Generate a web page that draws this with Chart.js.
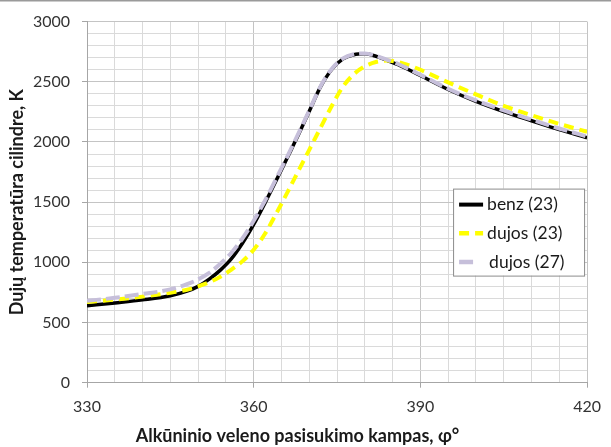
<!DOCTYPE html>
<html>
<head>
<meta charset="utf-8">
<script src="https://cdn.jsdelivr.net/npm/chart.js@4"></script>
<style>
  html, body { margin: 0; padding: 0; background: #fff; }
  #wrap { width: 611px; height: 447px; }
</style>
</head>
<body>
<div id="wrap"><canvas id="chartCanvas" width="611" height="447"></canvas></div>
<script>
// Données
const angles = [330, 335, 340, 345, 348, 350, 352, 354, 356, 358, 360, 362, 364, 366, 368, 370,
                372, 374, 376, 378, 380, 382, 384, 386, 388, 390, 395, 400, 405, 410, 415, 420];
const benz23 = [640, 663, 688, 722, 760, 800, 860, 935, 1030, 1160, 1315, 1490, 1675, 1865, 2055, 2255,
                2455, 2600, 2688, 2725, 2732, 2712, 2678, 2642, 2598, 2552, 2436, 2337, 2252, 2176, 2102, 2035];
const dujos23 = [670, 690, 715, 748, 772, 800, 835, 880, 940, 1010, 1105, 1235, 1400, 1575, 1755, 1935,
                 2115, 2295, 2455, 2562, 2628, 2664, 2676, 2664, 2636, 2600, 2495, 2395, 2300, 2222, 2150, 2085];
const dujos27 = [680, 705, 737, 775, 818, 858, 912, 988, 1080, 1200, 1345, 1510, 1690, 1875, 2065, 2262,
                 2460, 2605, 2692, 2729, 2736, 2716, 2683, 2648, 2605, 2558, 2442, 2345, 2262, 2186, 2112, 2045];
const seriesLabels = ['benz (23)', 'dujos (23)', 'dujos (27)'];
const xTickLabels = [330, 360, 390, 420];
const yTickLabels = [0, 500, 1000, 1500, 2000, 2500, 3000];

const FONT = 'Lato, "Open Sans", sans-serif';

function toPoints(ys) {
    return angles.map((a, i) => ({ x: a, y: ys[i] }));
}

// Fond blanc + trait gris en haut
const backgroundPlugin = {
    id: 'background',
    beforeDraw(chart) {
        const ctx = chart.ctx;
        ctx.save();
        ctx.fillStyle = '#fff';
        ctx.fillRect(0, 0, chart.width, chart.height);
        ctx.strokeStyle = '#9a9a9a';
        ctx.lineWidth = 1.5;
        ctx.beginPath();
        ctx.moveTo(0, 0.75);
        ctx.lineTo(chart.width, 0.75);
        ctx.stroke();
        ctx.restore();
    }
};

// Légende encadrée dans la zone du graphique
const boxLegendPlugin = {
    id: 'boxLegend',
    afterDatasetsDraw(chart) {
        const ctx = chart.ctx;
        const area = chart.chartArea;
        const w = 131, h = 87;
        const x0 = area.right - w - 3;
        const y0 = area.top + 167;
        ctx.save();
        ctx.fillStyle = '#fff';
        ctx.fillRect(x0, y0, w, h);
        ctx.strokeStyle = '#8c8c8c';
        ctx.lineWidth = 1;
        ctx.strokeRect(x0 + 0.5, y0 + 0.5, w, h);
        ctx.font = '17.5px ' + FONT;
        ctx.textBaseline = 'middle';
        ctx.fillStyle = '#1a1a1a';
        [0, 1, 2].forEach(i => {
            const ds = chart.data.datasets[i];
            const cy = y0 + 16 + i * 28.7;
            ctx.strokeStyle = ds.borderColor;
            ctx.lineWidth = ds.borderWidth + 0.5;
            ctx.setLineDash(ds.borderDash || []);
            ctx.beginPath();
            ctx.moveTo(x0 + 6, cy);
            ctx.lineTo(x0 + (i === 2 ? 22 : 30), cy);
            ctx.stroke();
            ctx.setLineDash([]);
            ctx.fillText(ds.label, x0 + (i === 2 ? 36 : 34), cy);
        });
        ctx.restore();
    }
};

const chart = new Chart(document.getElementById('chartCanvas'), {
    type: 'line',
    data: {
        datasets: [
            {
                label: seriesLabels[0],
                data: toPoints(benz23),
                borderColor: '#000000',
                borderWidth: 3.5,
                order: 3
            },
            {
                label: seriesLabels[1],
                data: toPoints(dujos23),
                borderColor: '#ffff00',
                borderWidth: 4,
                borderDash: [10, 6],
                order: 2
            },
            {
                label: seriesLabels[2],
                data: toPoints(dujos27),
                borderColor: '#c6bfda',
                borderWidth: 4,
                borderDash: [14, 5],
                order: 1
            }
        ]
    },
    options: {
        responsive: false,
        animation: false,
        events: [],
        layout: { padding: { top: 15, right: 16, left: 0, bottom: 0 } },
        elements: {
            point: { radius: 0 },
            line: { cubicInterpolationMode: 'monotone', fill: false, borderCapStyle: 'butt' }
        },
        plugins: {
            legend: { display: false },
            tooltip: { enabled: false },
            title: {
                display: true,
                position: 'bottom',
                text: 'Alkūninio veleno pasisukimo kampas, φ°',
                color: '#1a1a1a',
                font: { family: FONT, size: 18, weight: 'bold' },
                padding: { top: 0, bottom: 0 }
            }
        },
        scales: {
            x: {
                type: 'linear',
                min: 330,
                max: 420,
                afterFit(scale) { scale.height = 42.7; },
                border: { color: '#a6a6a6', width: 1 },
                grid: {
                    color: ctx => (xTickLabels.includes(ctx.tick.value) ? '#c4c4c4' : '#dadada'),
                    tickColor: ctx => (xTickLabels.includes(ctx.tick.value) ? '#a6a6a6' : 'rgba(0,0,0,0)'),
                    tickLength: 5
                },
                ticks: {
                    stepSize: 5,
                    autoSkip: false,
                    maxRotation: 0,
                    padding: 10,
                    color: '#333',
                    font: { family: FONT, size: 16 },
                    callback: v => (xTickLabels.includes(v) ? String(v) : '')
                }
            },
            y: {
                min: 0,
                max: 3000,
                afterFit(scale) { scale.width = 87; },
                border: { color: '#a6a6a6', width: 1 },
                grid: {
                    color: ctx => (yTickLabels.includes(ctx.tick.value) ? '#c4c4c4' : '#dadada'),
                    tickColor: ctx => (yTickLabels.includes(ctx.tick.value) ? '#a6a6a6' : 'rgba(0,0,0,0)'),
                    tickLength: 5
                },
                ticks: {
                    stepSize: 100,
                    autoSkip: false,
                    padding: 12,
                    color: '#333',
                    font: { family: FONT, size: 16 },
                    callback: v => (yTickLabels.includes(v) ? String(v) : '')
                },
                title: {
                    display: true,
                    text: 'Dujų temperatūra cilindre, K',
                    color: '#1a1a1a',
                    font: { family: FONT, size: 18, weight: 'bold' },
                    padding: { top: 6, bottom: 0 }
                }
            }
        }
    },
    plugins: [backgroundPlugin, boxLegendPlugin]
});
</script>
</body>
</html>
